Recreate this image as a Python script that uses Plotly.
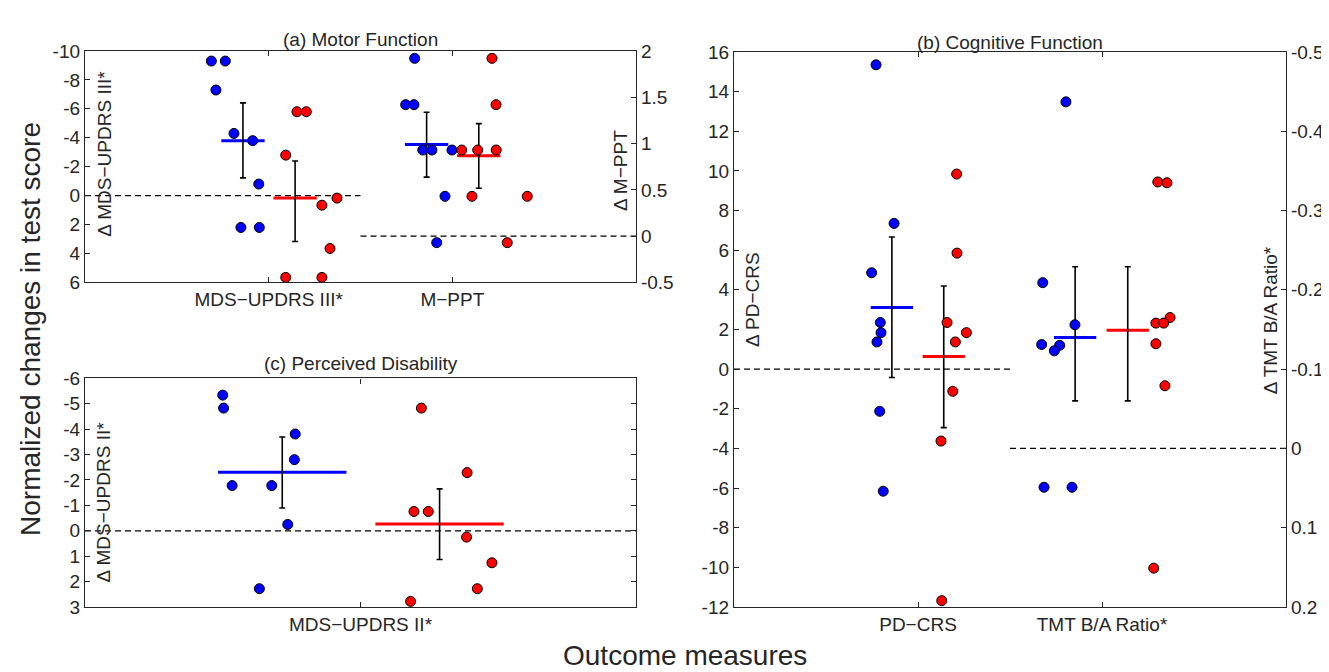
import plotly.graph_objects as go

W, H = 1329, 672

# ---------------- data ----------------
# (a) Motor function - MDS-UPDRS III (left axis)
mds3_blue_x = [0.688, 0.764, 0.713, 0.811, 0.913, 0.946, 0.849, 0.949]
mds3_blue_y = [-9.3, -9.3, -7.3, -4.3, -3.8, -0.8, 2.2, 2.2]
mds3_red_x = [1.154, 1.205, 1.093, 1.372, 1.290, 1.334, 1.093, 1.290]
mds3_red_y = [-5.8, -5.8, -2.8, 0.17, 0.66, 3.65, 5.65, 5.65]
mds3_mean = [-3.8, 0.17]
mds3_err_lo = [-6.41, -2.39]
mds3_err_hi = [-1.23, 3.17]

# (a) Motor function - M-PPT (right axis)
mppt_blue_x = [1.795, 1.746, 1.791, 1.839, 1.889, 1.998, 1.960, 1.915]
mppt_blue_y = [1.92, 1.42, 1.42, 0.93, 0.93, 0.93, 0.43, -0.07]
mppt_red_x = [2.216, 2.238, 2.051, 2.138, 2.239, 2.107, 2.408, 2.299]
mppt_red_y = [1.92, 1.42, 0.93, 0.93, 0.93, 0.43, 0.43, -0.07]
mppt_mean = [0.99, 0.867]
mppt_err_lo = [0.637, 0.518]
mppt_err_hi = [1.338, 1.215]

# (c) Perceived disability - MDS-UPDRS II
mds2_blue_x = [0.500, 0.503, 0.763, 0.760, 0.534, 0.678, 0.736, 0.633]
mds2_blue_y = [-5.34, -4.83, -3.81, -2.80, -1.78, -1.78, -0.25, 2.28]
mds2_red_x = [1.221, 1.387, 1.194, 1.246, 1.385, 1.477, 1.424, 1.182]
mds2_red_y = [-4.83, -2.29, -0.76, -0.76, 0.25, 1.26, 2.28, 2.78]
mds2_mean = [-2.3, -0.27]
mds2_err_lo = [-3.69, -1.65]
mds2_err_hi = [-0.90, 1.13]

# (b) Cognitive function - PD-CRS (left axis)
pdcrs_blue_x = [0.772, 0.870, 0.748, 0.795, 0.799, 0.777, 0.792, 0.811]
pdcrs_blue_y = [15.35, 7.35, 4.86, 2.35, 1.84, 1.37, -2.13, -6.16]
pdcrs_red_x = [1.210, 1.212, 1.158, 1.263, 1.203, 1.189, 1.125, 1.129]
pdcrs_red_y = [9.84, 5.85, 2.35, 1.84, 1.37, -1.12, -3.63, -11.68]
pdcrs_mean = [3.11, 0.64]
pdcrs_err_lo = [-0.42, -2.95]
pdcrs_err_hi = [6.66, 4.19]

# (b) Cognitive function - TMT B/A ratio (right axis)
tmt_blue_x = [1.804, 1.678, 1.853, 1.672, 1.770, 1.741, 1.685, 1.837]
tmt_blue_y = [-0.437, -0.209, -0.156, -0.131, -0.130, -0.123, 0.049, 0.049]
tmt_red_x = [2.303, 2.353, 2.370, 2.293, 2.335, 2.293, 2.342, 2.281]
tmt_red_y = [-0.336, -0.335, -0.165, -0.158, -0.158, -0.132, -0.079, 0.151]
tmt_mean = [-0.14, -0.149]
tmt_err_lo = [-0.229, -0.229]
tmt_err_hi = [-0.060, -0.060]

# tick labels
a_xticks = ["MDS\u2212UPDRS III*", "M\u2212PPT"]
b_xticks = ["PD\u2212CRS", "TMT B/A Ratio*"]
c_xticks = ["MDS\u2212UPDRS II*"]
a_left_ticks = [-10, -8, -6, -4, -2, 0, 2, 4, 6]
a_right_ticks = [-0.5, 0, 0.5, 1, 1.5, 2]
b_left_ticks = [-12, -10, -8, -6, -4, -2, 0, 2, 4, 6, 8, 10, 12, 14, 16]
b_right_ticks = [-0.5, -0.4, -0.3, -0.2, -0.1, 0, 0.1, 0.2]
c_left_ticks = [-6, -5, -4, -3, -2, -1, 0, 1, 2, 3]

# ---------------- style / layout constants ----------------
FONT = "Liberation Sans, Arial, Helvetica, sans-serif"
TXT = "#262626"
AX = "#262626"
BLUE = "#0000ff"
RED = "#ff0000"
TICKF = 19


def px_x(p):
    return p / W


def px_y(p):
    return 1 - p / H


def lab(v):
    # plain hyphen-minus labels as in the reference
    return "%g" % v


fig = go.Figure()


def add_group(xs, ys, color, xa, ya):
    fig.add_trace(go.Scatter(
        x=xs, y=ys, mode="markers", xaxis=xa, yaxis=ya, showlegend=False,
        marker=dict(size=10, color=color, line=dict(color="black", width=1))))


def add_summary(centers, half, means, lo, hi, colors, xa, ya):
    for c, m, l, h, col in zip(centers, means, lo, hi, colors):
        fig.add_trace(go.Scatter(
            x=[c - half, c + half], y=[m, m], mode="lines", xaxis=xa, yaxis=ya,
            showlegend=False, line=dict(color=col, width=3)))
        fig.add_trace(go.Scatter(
            x=[c], y=[m], mode="markers", xaxis=xa, yaxis=ya, showlegend=False,
            marker=dict(size=1, color="rgba(0,0,0,0)"),
            error_y=dict(type="data", symmetric=False, array=[h - m],
                         arrayminus=[m - l], color="black", thickness=1.6,
                         width=3)))


def add_zero(x0, x1, xa, ya):
    fig.add_trace(go.Scatter(
        x=[x0, x1], y=[0, 0], mode="lines", xaxis=xa, yaxis=ya, showlegend=False,
        line=dict(color="black", width=1.2, dash="6px,4px")))


# panel (a)
add_zero(0, 1.5, "x", "y")
add_zero(1.5, 3, "x", "y2")
add_summary([0.86, 1.144], 0.118, mds3_mean, mds3_err_lo, mds3_err_hi,
            [BLUE, RED], "x", "y")
add_summary([1.86, 2.144], 0.118, mppt_mean, mppt_err_lo, mppt_err_hi,
            [BLUE, RED], "x", "y2")
add_group(mds3_blue_x, mds3_blue_y, BLUE, "x", "y")
add_group(mds3_red_x, mds3_red_y, RED, "x", "y")
add_group(mppt_blue_x, mppt_blue_y, BLUE, "x", "y2")
add_group(mppt_red_x, mppt_red_y, RED, "x", "y2")

# panel (b)
add_zero(0, 1.5, "x2", "y3")
add_zero(1.5, 3, "x2", "y4")
add_summary([0.858, 1.14], 0.115, pdcrs_mean, pdcrs_err_lo, pdcrs_err_hi,
            [BLUE, RED], "x2", "y3")
add_summary([1.854, 2.14], 0.115, tmt_mean, tmt_err_lo, tmt_err_hi,
            [BLUE, RED], "x2", "y4")
add_group(pdcrs_blue_x, pdcrs_blue_y, BLUE, "x2", "y3")
add_group(pdcrs_red_x, pdcrs_red_y, RED, "x2", "y3")
add_group(tmt_blue_x, tmt_blue_y, BLUE, "x2", "y4")
add_group(tmt_red_x, tmt_red_y, RED, "x2", "y4")

# panel (c)
add_zero(0, 2, "x3", "y5")
add_summary([0.716, 1.287], 0.233, mds2_mean, mds2_err_lo, mds2_err_hi,
            [BLUE, RED], "x3", "y5")
add_group(mds2_blue_x, mds2_blue_y, BLUE, "x3", "y5")
add_group(mds2_red_x, mds2_red_y, RED, "x3", "y5")

# ---------------- axes ----------------
common = dict(showline=True, linecolor=AX, linewidth=1.3, ticks="inside",
              ticklen=5, tickcolor=AX, tickwidth=1.2, showgrid=False,
              zeroline=False, tickfont=dict(family=FONT, size=TICKF, color=TXT))

A_X = [px_x(77), px_x(628)]
A_Y = [px_y(273), px_y(34)]
B_X = [px_x(726), px_x(1278)]
B_Y = [px_y(608), px_y(35)]
C_X = A_X
C_Y = [px_y(608), px_y(372)]

fig.update_layout(
    width=W, height=H, margin=dict(l=0, r=0, t=0, b=0),
    paper_bgcolor="white", plot_bgcolor="white", showlegend=False,
    font=dict(family=FONT, color=TXT),
    xaxis=dict(domain=A_X, range=[0, 3], anchor="y", tickvals=[1, 2],
               ticktext=a_xticks, mirror="ticks", **common),
    yaxis=dict(domain=A_Y, range=[6, -10], anchor="x", tickvals=a_left_ticks,
               ticktext=[lab(v) for v in a_left_ticks], **common),
    yaxis2=dict(range=[-0.5, 2], overlaying="y", anchor="x", side="right",
                tickvals=a_right_ticks,
                ticktext=[lab(v) for v in a_right_ticks], **common),
    xaxis2=dict(domain=B_X, range=[0, 3], anchor="y3", tickvals=[1, 2],
                ticktext=b_xticks, mirror="ticks", **common),
    yaxis3=dict(domain=B_Y, range=[-12, 16], anchor="x2", tickvals=b_left_ticks,
                ticktext=[lab(v) for v in b_left_ticks], **common),
    yaxis4=dict(range=[0.2, -0.5], overlaying="y3", anchor="x2", side="right",
                tickvals=b_right_ticks,
                ticktext=[lab(v) for v in b_right_ticks], **common),
    xaxis3=dict(domain=C_X, range=[0, 2], anchor="y5", tickvals=[1],
                ticktext=c_xticks, mirror="ticks", **common),
    yaxis5=dict(domain=C_Y, range=[3, -6], anchor="x3", tickvals=c_left_ticks,
                ticktext=[lab(v) for v in c_left_ticks], mirror="ticks", **common),
)

# ---------------- text ----------------
def ann(text, x, y, size, angle=0):
    fig.add_annotation(text=text, x=x, y=y, xref="paper", yref="paper",
                       showarrow=False, textangle=angle, xanchor="center",
                       yanchor="middle", font=dict(family=FONT, size=size, color=TXT))


ann("(a) Motor Function", px_x(352.5), px_y(22), 19)
ann("(c) Perceived Disability", px_x(352.5), px_y(357), 19)
ann("(b) Cognitive Function", px_x(1002), px_y(25), 19)
ann("Normalized changes in test score", px_x(23), px_y(321), 28, -90)
ann("Outcome measures", px_x(677), px_y(658), 28)
ann("\u0394 MDS\u2212UPDRS III*", px_x(97), px_y(140), 19, -90)
ann("\u0394 M\u2212PPT", px_x(612), px_y(158), 19, -90)
ann("\u0394 MDS\u2212UPDRS II*", px_x(95), px_y(500), 19, -90)
ann("\u0394 PD\u2212CRS", px_x(745), px_y(291), 19, -90)
ann("\u0394 TMT B/A Ratio*", px_x(1262), px_y(312), 19, -90)

fig.write_html("out.html")
